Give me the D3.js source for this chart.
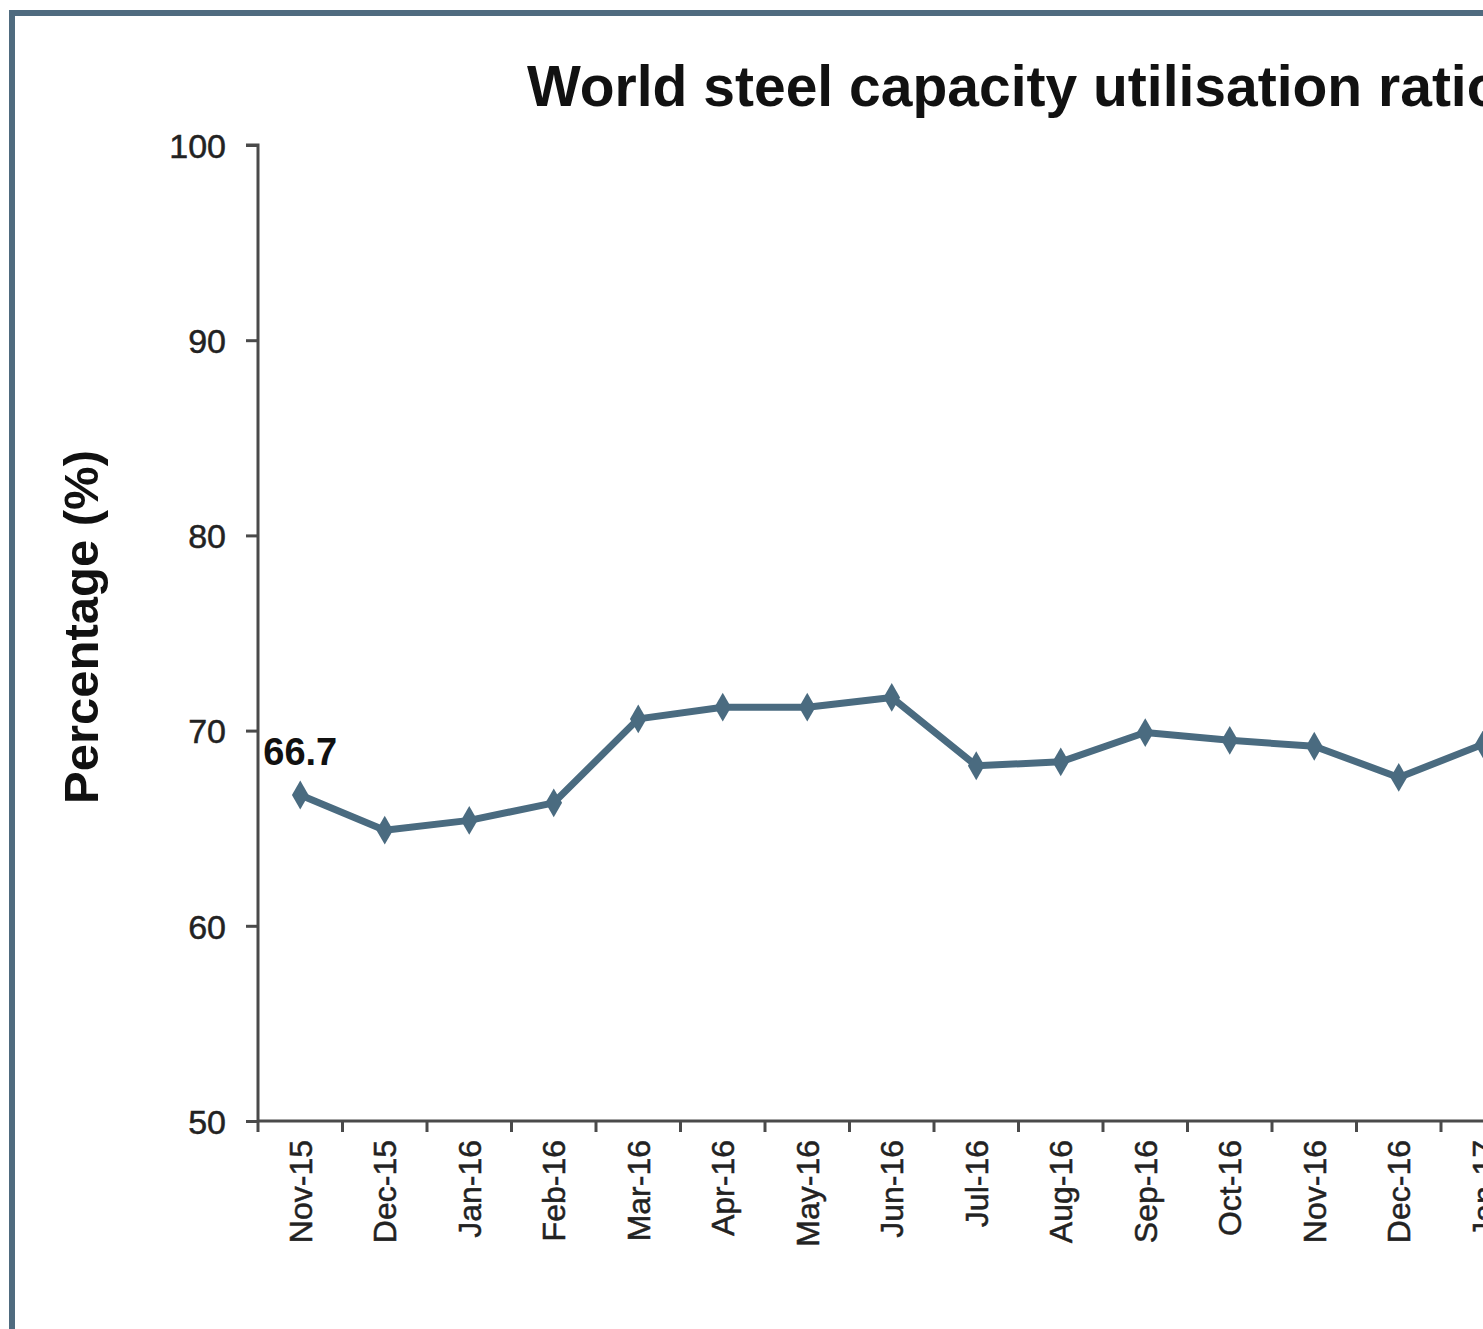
<!DOCTYPE html>
<html>
<head>
<meta charset="utf-8">
<script src="https://cdn.jsdelivr.net/npm/d3@7"></script>
<style>
  html, body { margin: 0; padding: 0; background: #fff; overflow: hidden; }
  svg { display: block; font-family: "Liberation Sans", Arial, sans-serif; }
</style>
</head>
<body>
<svg id="chart" width="1483" height="1329"></svg>
<script>
const title = "World steel capacity utilisation ratio";
const yAxisTitle = "Percentage (%)";
const months = ["Nov-15","Dec-15","Jan-16","Feb-16","Mar-16","Apr-16","May-16","Jun-16","Jul-16","Aug-16","Sep-16","Oct-16","Nov-16","Dec-16","Jan-17"];
const utilisation = [66.7, 64.9, 65.4, 66.3, 70.6, 71.2, 71.2, 71.7, 68.2, 68.4, 69.9, 69.5, 69.2, 67.6, 69.3];
const yTicks = [50, 60, 70, 80, 90, 100];
const labelledIndex = [0];

(function () {
const svg = d3.select("#chart");
const lineColor = "#4a6b80";
const axisColor = "#4a4a4a";

// frame
svg.append("rect")
  .attr("x", 12).attr("y", 13).attr("width", 3000).attr("height", 3000)
  .attr("fill", "#fff").attr("stroke", "#4f6b7f").attr("stroke-width", 6);

const plotLeft = 258, plotTop = 145, plotBottom = 1121;
const step = 84.5;
const x = d3.scaleBand().domain(months).range([plotLeft, plotLeft + step * months.length]).paddingInner(0).paddingOuter(0);
const y = d3.scaleLinear().domain([50, 100]).range([plotBottom, plotTop]);

// title
svg.append("text")
  .attr("x", 527).attr("y", 106)
  .attr("font-size", 57).attr("font-weight", "bold").attr("fill", "#111")
  .text(title);

// y axis title
svg.append("text")
  .attr("transform", `translate(98,627) rotate(-90)`)
  .attr("text-anchor", "middle")
  .attr("font-size", 49).attr("font-weight", "bold").attr("fill", "#111")
  .text(yAxisTitle);

// y axis
const yAxis = svg.append("g")
  .attr("transform", `translate(${plotLeft},0)`)
  .call(d3.axisLeft(y).tickValues(yTicks).tickSize(12).tickPadding(20).tickFormat(d3.format("d")));
yAxis.select(".domain").attr("d", `M-12,${y(100)}H0V${plotBottom}`).attr("stroke", axisColor).attr("stroke-width", 3);
yAxis.selectAll(".tick line").attr("stroke", axisColor).attr("stroke-width", 3);
yAxis.selectAll(".tick text").attr("font-size", 34).attr("fill", "#222")
  .attr("stroke", "#222").attr("stroke-width", 0.5)
  .attr("font-family", "Liberation Sans, Arial, sans-serif").attr("dy", "0.36em");

// x axis
const xAxis = svg.append("g")
  .attr("transform", `translate(0,${plotBottom})`)
  .call(d3.axisBottom(x).tickSize(0).tickPadding(0));
xAxis.select(".domain").attr("d", `M${plotLeft},0H${plotLeft + step * months.length + 50}`).attr("stroke", axisColor).attr("stroke-width", 3);
xAxis.selectAll(".tick text")
  .attr("font-size", 32).attr("fill", "#222")
  .attr("stroke", "#222").attr("stroke-width", 0.5)
  .attr("font-family", "Liberation Sans, Arial, sans-serif")
  .attr("text-anchor", "end")
  .attr("transform", "translate(0,19) rotate(-90)")
  .attr("x", 0).attr("y", 0).attr("dy", "0.36em");
// boundary ticks
xAxis.selectAll(".bound")
  .data(months)
  .join("line")
  .attr("class", "bound")
  .attr("x1", d => x(d)).attr("x2", d => x(d))
  .attr("y1", 0).attr("y2", 11)
  .attr("stroke", axisColor).attr("stroke-width", 3);

// line
const line = d3.line()
  .x((d, i) => x(months[i]) + x.bandwidth() / 2)
  .y(d => y(d));
svg.append("path")
  .datum(utilisation)
  .attr("d", line)
  .attr("fill", "none")
  .attr("stroke", lineColor)
  .attr("stroke-width", 7)
  .attr("stroke-linejoin", "round");

svg.selectAll(".mk")
  .data(utilisation)
  .join("path")
  .attr("class", "mk")
  .attr("d", d3.symbol(d3.symbolDiamond, 240))
  .attr("transform", (d, i) => `translate(${x(months[i]) + x.bandwidth() / 2},${y(d)})`)
  .attr("fill", lineColor);

// data label
svg.selectAll(".lbl")
  .data(labelledIndex)
  .join("text")
  .attr("class", "lbl")
  .attr("x", i => x(months[i]) + x.bandwidth() / 2)
  .attr("y", i => y(utilisation[i]) - 30)
  .attr("text-anchor", "middle")
  .attr("font-size", 38).attr("font-weight", "bold").attr("fill", "#111")
  .text(i => utilisation[i].toFixed(1));
})();
</script>
</body>
</html>
